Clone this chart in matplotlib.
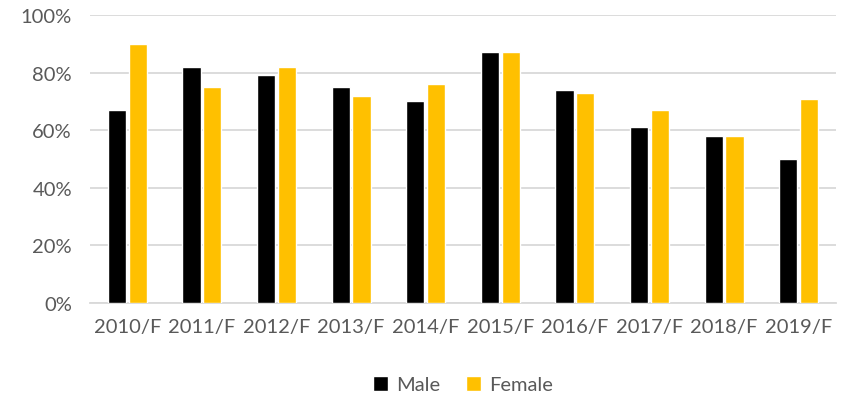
import matplotlib
matplotlib.use("Agg")
import matplotlib.pyplot as plt
import numpy as np
from matplotlib.ticker import PercentFormatter

categories = ["2010/F", "2011/F", "2012/F", "2013/F", "2014/F",
              "2015/F", "2016/F", "2017/F", "2018/F", "2019/F"]
male = [67, 82, 79, 75, 70, 87, 74, 61, 58, 50]
female = [90, 75, 82, 72, 76, 87, 73, 67, 58, 71]

plt.rcParams['font.family'] = ['Lato', 'DejaVu Sans']
txt = '#595959'

fig = plt.figure(figsize=(8.46, 4.02), dpi=100)
ax = fig.add_axes([90/846, 1-304/402, (836-90)/846, (304-16)/402])

x = np.arange(len(categories))
w = 0.245
ax.bar(x - 0.14, male, width=w, color='black', edgecolor='white', linewidth=1, label='Male', zorder=3)
ax.bar(x + 0.14, female, width=w, color='#FFC000', edgecolor='white', linewidth=1, label='Female', zorder=3)

ax.set_xlim(-0.5, len(categories) - 0.5)
ax.set_ylim(0, 100)
ax.set_yticks(np.arange(0, 101, 20))
ax.yaxis.set_major_formatter(PercentFormatter(decimals=0))
ax.set_xticks(x)
ax.set_xticklabels(categories)
ax.grid(axis='y', color='#d9d9d9', linewidth=1.3, zorder=0)
for s in ['top', 'right', 'left']:
    ax.spines[s].set_visible(False)
ax.spines['bottom'].set_color('#d9d9d9')
ax.spines['bottom'].set_linewidth(1.3)
ax.tick_params(axis='both', length=0, labelsize=14.5, colors=txt, pad=11)
ax.tick_params(axis='y', pad=13)

leg = ax.legend(loc='upper center', bbox_to_anchor=(0.5, -0.19), ncol=2, frameon=False,
                fontsize=14.5, handlelength=0.75, handleheight=0.75, handletextpad=0.4,
                columnspacing=1.3)
for t in leg.get_texts():
    t.set_color(txt)

fig.savefig("out.png", dpi=100)
